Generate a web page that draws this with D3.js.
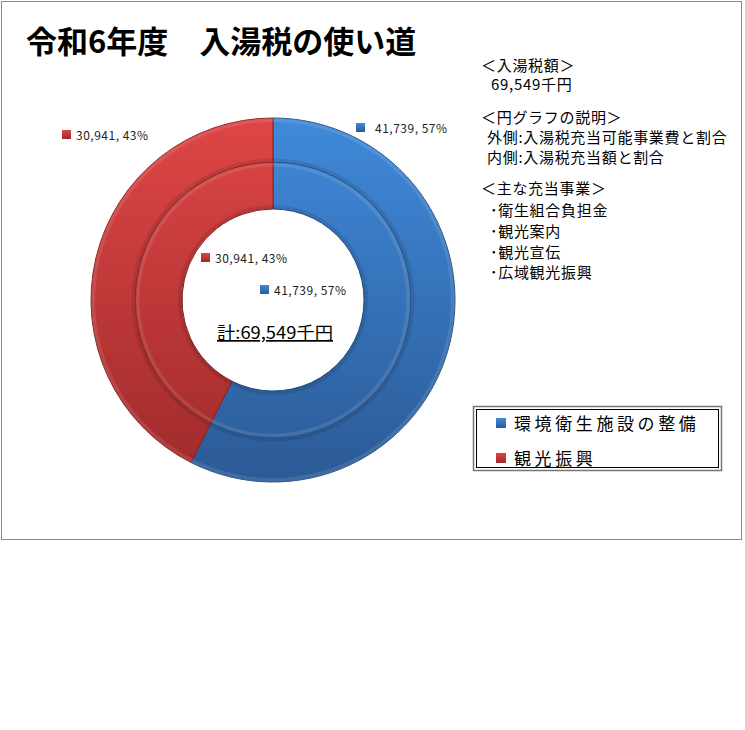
<!DOCTYPE html>
<html lang="ja">
<head>
<meta charset="UTF-8">
<title>令和6年度 入湯税の使い道</title>
<script src="https://d3js.org/d3.v7.min.js"></script>
<style>
  body { margin: 0; background: #fff; }
  text { font-family: "Noto Sans CJK JP", "Noto Sans", sans-serif; }
</style>
</head>
<body>
<script>
const categories = ["環境衛生施設の整備", "観光振興"];
const outerValues = [41739, 30941];
const innerValues = [41739, 30941];
const totalLabel = "計:69,549千円";
const title = "令和6年度　入湯税の使い道";
const noteLines = [
  "＜入湯税額＞",
  "69,549千円",
  "＜円グラフの説明＞",
  "外側:入湯税充当可能事業費と割合",
  "内側:入湯税充当額と割合",
  "＜主な充当事業＞",
  "･衛生組合負担金",
  "･観光案内",
  "･観光宣伝",
  "･広域観光振興"
];

const width = 745, height = 730;
const cx = 273, cy = 300;
const colors = [
  { top: "#408ada", bottom: "#2b5a96", edge: "#26507f" },
  { top: "#de4646", bottom: "#9e2a2a", edge: "#862222" }
];

const svg = d3.select("body").append("svg")
  .attr("width", width)
  .attr("height", height);

// chart frame
svg.append("rect")
  .attr("x", 1.5).attr("y", 1.5)
  .attr("width", 740).attr("height", 538)
  .attr("fill", "#fff")
  .attr("stroke", "#8a8a8a");

const defs = svg.append("defs");
colors.forEach((c, i) => {
  const g = defs.append("linearGradient")
    .attr("id", "grad" + i)
    .attr("gradientUnits", "userSpaceOnUse")
    .attr("x1", 0).attr("y1", -182)
    .attr("x2", 0).attr("y2", 182);
  g.append("stop").attr("offset", "0%").attr("stop-color", c.top);
  g.append("stop").attr("offset", "100%").attr("stop-color", c.bottom);

  const m = defs.append("linearGradient")
    .attr("id", "mark" + i)
    .attr("x1", 0).attr("y1", 0).attr("x2", 0).attr("y2", 1);
  m.append("stop").attr("offset", "0%").attr("stop-color", c.top);
  m.append("stop").attr("offset", "100%").attr("stop-color", c.bottom);
});

const pie = d3.pie().sort(null).value(d => d);

const rings = [
  { values: outerValues, inner: 137.5, outer: 182 },
  { values: innerValues, inner: 91, outer: 137.5 }
];

const g = svg.append("g").attr("transform", `translate(${cx},${cy})`);

rings.forEach(ring => {
  const arc = d3.arc().innerRadius(ring.inner).outerRadius(ring.outer);
  const arcTop = d3.arc().innerRadius(ring.outer - 4).outerRadius(ring.outer);
  const arcBot = d3.arc().innerRadius(ring.inner).outerRadius(ring.inner + 4);
  const arcs = pie(ring.values);
  const rg = g.append("g");
  rg.selectAll("path.seg").data(arcs).join("path")
    .attr("class", "seg")
    .attr("d", arc)
    .attr("fill", (d, i) => `url(#grad${i})`)
    .attr("stroke", (d, i) => colors[i].edge)
    .attr("stroke-width", 1);
  // light rim on outer edge, shade on inner edge
  rg.selectAll("path.rim").data(arcs).join("path")
    .attr("class", "rim")
    .attr("d", arcTop)
    .attr("fill", "#fff")
    .attr("fill-opacity", 0.1);
  rg.selectAll("path.shade").data(arcs).join("path")
    .attr("class", "shade")
    .attr("d", arcBot)
    .attr("fill", "#000")
    .attr("fill-opacity", 0.1);
});

// data labels
const fmt = d3.format(",");
const labelPos = [
  // outer ring: blue, red ; inner ring: blue, red
  [{ x: 356, y: 128 }, { x: 62, y: 135 }],
  [{ x: 260, y: 290 }, { x: 201, y: 258 }]
];
rings.forEach((ring, ri) => {
  const total = d3.sum(ring.values);
  ring.values.forEach((v, i) => {
    const p = labelPos[ri][i];
    svg.append("rect")
      .attr("x", p.x).attr("y", p.y - 5)
      .attr("width", 9).attr("height", 9)
      .attr("fill", `url(#mark${i})`);
    svg.append("text")
      .attr("x", p.x + (ri === 0 && i === 0 ? 19 : 14))
      .attr("y", p.y + 4.5)
      .attr("font-size", 12)
      .attr("letter-spacing", 0.5)
      .attr("fill", "#222")
      .text(`${fmt(v)}, ${Math.round(v / total * 100)}%`);
  });
});

// center total
svg.append("text")
  .attr("x", 217).attr("y", 339)
  .attr("font-size", 17)
  .attr("textLength", 116)
  .attr("lengthAdjust", "spacingAndGlyphs")
  .attr("text-decoration", "underline")
  .attr("fill", "#000")
  .text(totalLabel);

// title
svg.append("text")
  .attr("x", 26).attr("y", 53)
  .attr("font-size", 31)
  .attr("font-weight", "bold")
  .attr("fill", "#000")
  .text(title);

// notes on the right
const noteY = [65, 84, 117, 137, 157, 188, 210, 231, 252, 272];
const noteX = [481, 491, 481, 487, 487, 481, 490, 490, 490, 490];
svg.append("g").selectAll("text").data(noteLines).join("text")
  .attr("x", (d, i) => noteX[i])
  .attr("y", (d, i) => noteY[i] + 5.5)
  .attr("font-size", 15)
  .attr("letter-spacing", 0.7)
  .attr("fill", "#000")
  .text(d => d);

// legend
const lg = svg.append("g");
lg.append("rect")
  .attr("x", 473.5).attr("y", 406.5)
  .attr("width", 248).attr("height", 64)
  .attr("fill", "#fff")
  .attr("stroke", "#777").attr("stroke-width", 1.5);
lg.append("rect")
  .attr("x", 476.5).attr("y", 409.5)
  .attr("width", 242).attr("height", 58)
  .attr("fill", "none")
  .attr("stroke", "#000").attr("stroke-width", 1);
categories.forEach((c, i) => {
  const y = 423 + i * 35;
  lg.append("rect")
    .attr("x", 496).attr("y", y - 5)
    .attr("width", 10).attr("height", 10)
    .attr("fill", `url(#mark${i})`);
  lg.append("text")
    .attr("x", 514).attr("y", y + 6.5)
    .attr("font-size", 17)
    .attr("letter-spacing", 3.6)
    .attr("fill", "#000")
    .text(c);
});
</script>
</body>
</html>
